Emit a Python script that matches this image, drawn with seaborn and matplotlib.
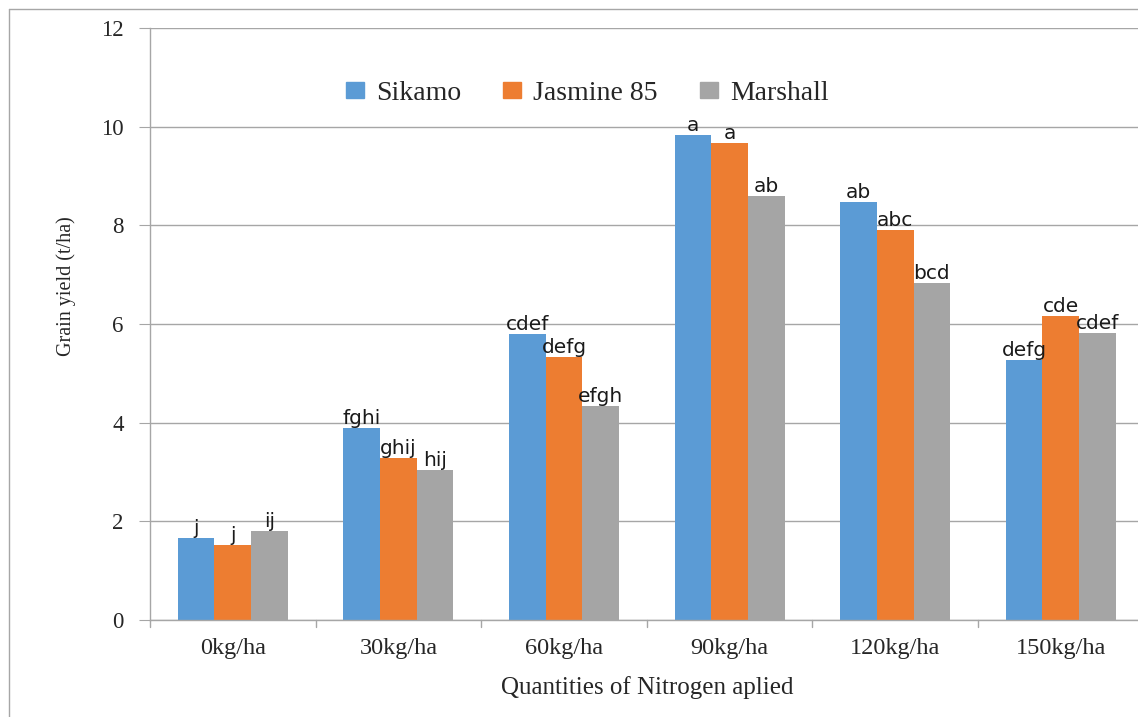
import matplotlib
matplotlib.use("Agg")
import matplotlib.pyplot as plt
import seaborn as sns
import pandas as pd
from matplotlib.lines import Line2D

categories = ["0kg/ha", "30kg/ha", "60kg/ha", "90kg/ha", "120kg/ha", "150kg/ha"]
varieties = ["Sikamo", "Jasmine 85", "Marshall"]
sikamo = [1.66, 3.89, 5.80, 9.83, 8.48, 5.27]
jasmine = [1.52, 3.28, 5.33, 9.67, 7.91, 6.16]
marshall = [1.80, 3.04, 4.34, 8.59, 6.83, 5.82]
letters_sikamo = ["j", "fghi", "cdef", "a", "ab", "defg"]
letters_jasmine = ["j", "ghij", "defg", "a", "abc", "cde"]
letters_marshall = ["ij", "hij", "efgh", "ab", "bcd", "cdef"]
colors = ["#5B9BD5", "#ED7D31", "#A5A5A5"]

rows = []
for name, vals in zip(varieties, [sikamo, jasmine, marshall]):
    for c, v in zip(categories, vals):
        rows.append({"Nitrogen": c, "Variety": name, "Yield": v})
df = pd.DataFrame(rows)

sns.set_style("white")
W, H = 1138, 717
fig = plt.figure(figsize=(W / 100, H / 100), dpi=100)
left_px, right_px, top_px, bot_px = 150, 1143.6, 28, 620
ax = fig.add_axes([left_px / W, 1 - bot_px / H, (right_px - left_px) / W, (bot_px - top_px) / H])

sns.barplot(data=df, x="Nitrogen", y="Yield", hue="Variety", order=categories,
            hue_order=varieties, palette=colors, width=0.665, linewidth=0,
            saturation=1, ax=ax, legend=False, errorbar=None)

ax.set_xlim(-0.5, 5.5)
ax.set_ylim(0, 12)
ax.set_yticks(range(0, 13, 2))
ax.yaxis.grid(True, color="#A6A6A6", linewidth=1)
ax.set_axisbelow(True)
for s in ["top", "right"]:
    ax.spines[s].set_visible(False)
for s in ["left", "bottom"]:
    ax.spines[s].set_color("#A6A6A6")
    ax.spines[s].set_linewidth(1)

serif = "Liberation Serif"
ax.set_yticklabels([str(v) for v in range(0, 13, 2)], fontfamily=serif, fontsize=16.5)
ax.set_xticks(range(len(categories)))
ax.set_xticklabels(categories, fontfamily=serif, fontsize=17.5)
ax.tick_params(axis="x", length=0, pad=13)
ax.tick_params(axis="y", length=8, color="#A6A6A6", direction="out", pad=11, left=True)
# category separator ticks on x axis
for b in [i + 0.5 for i in range(-1, len(categories))]:
    ax.plot([b, b], [0, -0.14], color="#A6A6A6", lw=1, clip_on=False,
            transform=ax.transData)

ax.set_xlabel("Quantities of Nitrogen aplied", fontfamily=serif, fontsize=18, labelpad=12)
ax.set_ylabel("Grain yield (t/ha)", fontfamily=serif, fontsize=14.5)
ax.yaxis.set_label_coords((66 - left_px) / (right_px - left_px), (bot_px - 286) / (bot_px - top_px))
ax.yaxis.label.set_verticalalignment("center")

for cont, labs in zip(ax.containers, [letters_sikamo, letters_jasmine, letters_marshall]):
    ax.bar_label(cont, labels=labs, padding=0, fontfamily="DejaVu Sans", fontsize=14.5, color="#1a1a1a")

handles = [plt.Rectangle((0, 0), 1, 1, color=c) for c in colors]
leg = ax.legend(handles, varieties, ncol=3, frameon=False, loc="center",
                bbox_to_anchor=(0.44, 0.89), prop={"family": serif, "size": 20},
                handlelength=0.65, handleheight=0.5, columnspacing=1.5, handletextpad=0.45)

# outer chart frame (left and top)
fig.add_artist(Line2D([9 / W, 9 / W], [0, 1 - 9 / H], color="#A6A6A6", lw=1))
fig.add_artist(Line2D([9 / W, 1], [1 - 9 / H, 1 - 9 / H], color="#A6A6A6", lw=1))

fig.savefig("out.png", dpi=100)
